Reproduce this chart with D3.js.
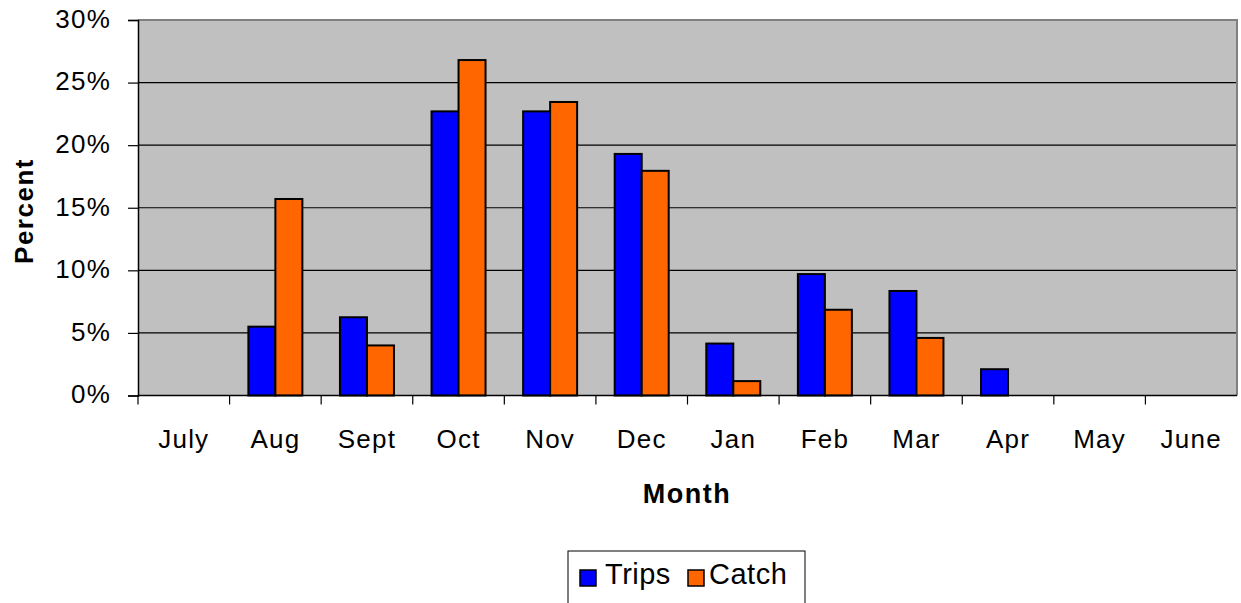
<!DOCTYPE html>
<html>
<head>
<meta charset="utf-8">
<script src="https://cdn.jsdelivr.net/npm/d3@7"></script>
<style>
  body { margin: 0; background: #fff; }
  text { font-family: "Liberation Sans", Arial, sans-serif; fill: #000; }
</style>
</head>
<body>
<div id="chart"></div>
<script>
var months = ["July", "Aug", "Sept", "Oct", "Nov", "Dec", "Jan", "Feb", "Mar", "Apr", "May", "June"];
var trips = [0, 5.5, 6.25, 22.7, 22.7, 19.3, 4.15, 9.7, 8.35, 2.1, 0, 0];
var catchPct = [0, 15.7, 4.0, 26.8, 23.45, 17.95, 1.15, 6.85, 4.6, 0, 0, 0];
var seriesNames = ["Trips", "Catch"];
var seriesColors = ["#0000ff", "#ff6600"];
var yTicks = [0, 5, 10, 15, 20, 25, 30];

var baseWidth = 1241, baseHeight = 603;
var margin = {top: 20, right: 4, bottom: 207.5, left: 138};
var width = baseWidth - margin.left - margin.right;
var height = baseHeight - margin.top - margin.bottom;

var svg = d3.select("#chart")
  .append("svg")
  .attr("width", baseWidth)
  .attr("height", baseHeight);

var chart = svg.append("g")
  .attr("transform", "translate(" + margin.left + "," + margin.top + ")");

var x = d3.scaleBand().domain(months).range([0, width]);
var x1 = d3.scaleBand().domain(seriesNames).range([0, 54]);
var y = d3.scaleLinear().domain([0, 30]).range([height, 0]);

// plot background
chart.append("rect")
  .attr("width", width)
  .attr("height", height)
  .attr("fill", "#c0c0c0");

// grid lines
chart.selectAll(".grid")
  .data(yTicks.slice(1, -1))
  .enter()
  .append("line")
  .attr("x1", 0).attr("x2", width)
  .attr("y1", function(d) { return y(d); })
  .attr("y2", function(d) { return y(d); })
  .attr("stroke", "#000")
  .attr("stroke-width", 1.2);

// top / right border
chart.append("path")
  .attr("d", "M0," + y(30) + "H" + width + "V" + height)
  .attr("fill", "none")
  .attr("stroke", "#808080")
  .attr("stroke-width", 2);

// bars
var data = months.map(function(m, i) {
  return {month: m, values: [trips[i], catchPct[i]]};
});

var group = chart.selectAll(".group")
  .data(data)
  .enter()
  .append("g")
  .attr("transform", function(d) {
    return "translate(" + (x(d.month) + (x.bandwidth() - 54) / 2) + ",0)";
  });

group.selectAll("rect")
  .data(function(d) {
    return d.values.map(function(v, j) { return {name: seriesNames[j], value: v, color: seriesColors[j]}; });
  })
  .enter()
  .filter(function(d) { return d.value > 0; })
  .append("rect")
  .attr("x", function(d) { return x1(d.name); })
  .attr("width", x1.bandwidth())
  .attr("y", function(d) { return y(d.value); })
  .attr("height", function(d) { return height - y(d.value); })
  .attr("fill", function(d) { return d.color; })
  .attr("stroke", "#000")
  .attr("stroke-width", 2);

// y axis
var yAxis = d3.axisLeft(y)
  .tickValues(yTicks)
  .tickSize(10)
  .tickPadding(17)
  .tickFormat(function(d) { return d + "%"; });

var yg = chart.append("g").call(yAxis);
yg.select(".domain").attr("stroke", "#000").attr("stroke-width", 1.5);
yg.selectAll(".tick line").attr("stroke", "#000").attr("stroke-width", 1.2);
yg.selectAll(".tick text")
  .attr("dy", "0.28em")
  .style("font-size", "26px")
  .style("letter-spacing", "1.2px")
  .style("font-family", "Liberation Sans, Arial, sans-serif");

// x axis
var xAxis = d3.axisBottom(x)
  .tickSize(0)
  .tickPadding(34);

var xg = chart.append("g")
  .attr("transform", "translate(0," + height + ")")
  .call(xAxis);
xg.select(".domain").remove();
xg.selectAll(".tick text")
  .style("font-size", "26px")
  .style("letter-spacing", "1.2px")
  .style("font-family", "Liberation Sans, Arial, sans-serif");

chart.append("line")
  .attr("x1", 0).attr("x2", width)
  .attr("y1", height).attr("y2", height)
  .attr("stroke", "#000")
  .attr("stroke-width", 1.5);

// separators between months
chart.selectAll(".sep")
  .data(months)
  .enter()
  .append("line")
  .attr("x1", function(d) { return x(d); })
  .attr("x2", function(d) { return x(d); })
  .attr("y1", height)
  .attr("y2", height + 9)
  .attr("stroke", "#000")
  .attr("stroke-width", 1.2);

// axis titles
svg.append("text")
  .attr("transform", "translate(33,211) rotate(-90)")
  .attr("text-anchor", "middle")
  .style("font-size", "26px")
  .style("font-weight", "bold")
  .style("letter-spacing", "1.5px")
  .text("Percent");

svg.append("text")
  .attr("x", 687)
  .attr("y", 503)
  .attr("text-anchor", "middle")
  .style("font-size", "27px")
  .style("font-weight", "bold")
  .style("letter-spacing", "1.5px")
  .text("Month");

// legend
var legend = svg.append("g").attr("transform", "translate(568,551)");
legend.append("rect")
  .attr("width", 237)
  .attr("height", 70)
  .attr("fill", "#fff")
  .attr("stroke", "#000")
  .attr("stroke-width", 1);

var legendBoxX = [12, 120];
var legendTextX = [37, 141];
seriesNames.forEach(function(name, i) {
  legend.append("rect")
    .attr("x", legendBoxX[i])
    .attr("y", 19)
    .attr("width", 16)
    .attr("height", 16)
    .attr("fill", seriesColors[i])
    .attr("stroke", "#000")
    .attr("stroke-width", 1.5);
  legend.append("text")
    .attr("x", legendTextX[i])
    .attr("y", 33)
    .style("font-size", "29px")
    .style("letter-spacing", "0.5px")
    .text(name);
});
</script>
</body>
</html>
